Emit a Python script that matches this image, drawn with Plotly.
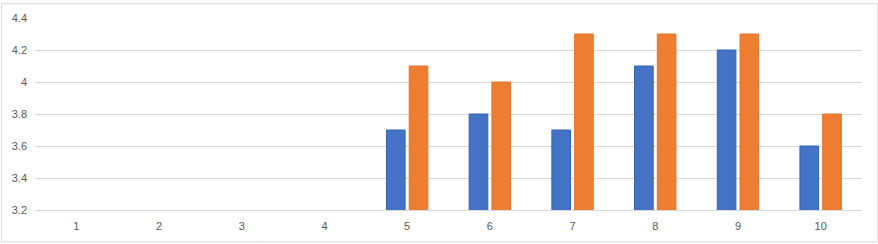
import plotly.graph_objects as go

categories = ["1", "2", "3", "4", "5", "6", "7", "8", "9", "10"]
series_a = [None, None, None, None, 3.7, 3.8, 3.7, 4.1, 4.2, 3.6]
series_b = [None, None, None, None, 4.1, 4.0, 4.3, 4.3, 4.3, 3.8]
y_ticks = [3.2, 3.4, 3.6, 3.8, 4.0, 4.2, 4.4]
y_tick_labels = ["3.2", "3.4", "3.6", "3.8", "4", "4.2", "4.4"]

fig = go.Figure()
fig.add_trace(go.Bar(x=categories, y=series_a, name="A",
                     marker=dict(color="#4472C4", line=dict(color="#3463B5", width=1))))
fig.add_trace(go.Bar(x=categories, y=series_b, name="B",
                     marker=dict(color="#ED7D31", line=dict(color="#E8742A", width=1))))

W, H = 878, 244
L, R, T, B = 34, 16, 15, 33
pw = W - L - R
ph = H - T - B

fig.update_layout(
    width=W, height=H,
    margin=dict(l=L, r=R, t=T, b=B, pad=0),
    paper_bgcolor="white", plot_bgcolor="white",
    showlegend=False,
    barmode="group", bargap=0.45, bargroupgap=0.18,
    font=dict(family="Liberation Sans, Arial, sans-serif", size=11, color="#595959"),
    xaxis=dict(type="category", showgrid=False, showline=True, linecolor="#D9D9D9",
               linewidth=1, ticks="", ticklabelstandoff=6, tickfont=dict(size=11, color="#595959")),
    yaxis=dict(range=[3.2, 4.4], tickvals=y_ticks, ticktext=y_tick_labels,
               showgrid=True, gridcolor="#D9D9D9", gridwidth=1, zeroline=False,
               showline=False, ticks="", ticklabelstandoff=7,
               tickfont=dict(size=11, color="#595959")),
    shapes=[dict(type="rect", xref="paper", yref="paper",
                 x0=(0.5 - L) / pw, x1=(W - 0.5 - L) / pw,
                 y0=-(H - 0.5 - T - ph) / ph if False else (B - (H - 0.5) + (H - B) - H + 0.5) / ph,
                 y1=(H - 0.5 - B) / ph,
                 line=dict(color="#D9D9D9", width=1), fillcolor="rgba(0,0,0,0)", layer="below")],
)
# fix border y0 in paper coordinates: pixel y=H-0.5 from top => paper y = (H - B - (H - 0.5)) / ph
fig.layout.shapes[0].y0 = (H - B - (H - 0.5)) / ph
fig.layout.shapes[0].y1 = (H - B - 0.5) / ph

fig.write_html("out.html")
